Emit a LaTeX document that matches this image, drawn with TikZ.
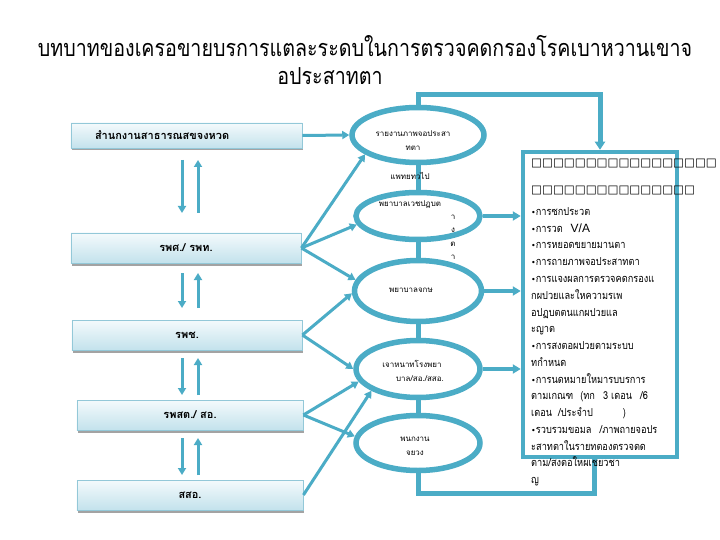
\documentclass[tikz,border=0pt]{standalone}
\usepackage{fontspec}
\newfontfamily\thai[Script=Thai]{Loma}
\newfontfamily\thaic[Script=Thai,FakeStretch=0.84]{Loma}
\newfontfamily\djv{DejaVu Sans}
\newfontfamily\lsans{Liberation Sans}
\usetikzlibrary{arrows.meta,shapes.geometric,shadows}
\definecolor{tealc}{HTML}{4BACC6}
\definecolor{boxline}{HTML}{93C8D8}
\definecolor{boxtop}{HTML}{F4FAFC}
\definecolor{boxbot}{HTML}{C3E2EC}
\newcommand{\bul}{{\djv\fontsize{8}{10}\selectfont •}}
\tikzset{
  lbox/.style={draw=boxline, line width=0.8bp, top color=boxtop, bottom color=boxbot,
    minimum height=30bp, inner sep=0pt, font=\thai\bfseries\fontsize{11}{13}\selectfont,
    drop shadow={shadow xshift=1bp, shadow yshift=-2.5bp, fill=black!45, opacity=0.8}},
  ell/.style={ellipse, draw=tealc, line width=5.5bp, fill=white, inner sep=0pt},
  link/.style={draw=tealc, line width=5bp},
  arr/.style={draw=tealc, line width=3bp, -{Triangle[length=7bp,width=8bp]}},
  rarr/.style={draw=tealc, line width=3.5bp, -{Triangle[length=8bp,width=9bp]}},
  small/.style={font=\thai\fontsize{8}{14}\selectfont, inner sep=0pt, align=center},
  rtext/.style={font=\thaic\fontsize{11}{12}\selectfont, inner sep=0pt, anchor=base west},
  hdr/.style={font=\djv\bfseries\fontsize{11.6}{14}\selectfont, inner sep=0pt, anchor=west},
  ttl/.style={font=\thaic\fontsize{23.5}{25}\selectfont, inner sep=0pt},
}
\begin{document}
\begin{tikzpicture}[x=1bp,y=-1bp]
\useasboundingbox (0,0) rectangle (720,540);
\fill[white] (0,0) rectangle (720,540);

% title
\node[ttl] (t1) at (365,46) {บทบาทของเครอขายบรการแตละระดบในการตรวจคดกรองโรคเบาหวานเขาจ};
\node[ttl] (t2) at (330,76) {อประสาทตา};

% left boxes
\node[lbox, minimum width=231bp, minimum height=25bp, text width=183bp, align=left] (b1) at (186.5,135.5) {สำนกงานสาธารณสขจงหวด};
\node[lbox, minimum width=230bp] (b2) at (186,248) {รพศ./ รพท.};
\node[lbox, minimum width=230bp] (b3) at (187,335) {รพช.};
\node[lbox, minimum width=226bp] (b4) at (190,415) {รพสต./ สอ.};
\node[lbox, minimum width=226bp] (b5) at (190,495) {สสอ.};

% right box
\node[draw=tealc, line width=4.5bp, minimum width=154bp, minimum height=305bp, inner sep=0pt] (rb) at (600,304.5) {};

% connectors around
\draw[link, -{Triangle[length=8bp,width=10bp]}] (418,105) -- (418,95) -| (rb.north);
\draw[link] (418,473) -- (418,493) -| (594,457);

% ellipses
\node[ell, minimum width=132bp, minimum height=55bp] (e1) at (418,135) {};
\node[ell, minimum width=124bp, minimum height=47bp] (e2) at (418,216) {};
\node[ell, minimum width=127bp, minimum height=61bp] (e3) at (418,291) {};
\node[ell, minimum width=124bp, minimum height=57bp] (e4) at (418,369) {};
\node[ell, minimum width=124bp, minimum height=55bp] (e5) at (418,443) {};

\draw[link] (e1.south) -- (e2.north);
\draw[link] (e2.south) -- (e3.north);
\draw[link] (e3.south) -- (e4.north);
\draw[link] (e4.south) -- (e5.north);

\node[small] (e1t) at (413,141) {รายงานภาพจอประสา\\ทตา};
\node[small] (l1) at (410,176) {แพทยทวไป};
\node[small] (e2t) at (410,204) {พยาบาลเวชปฏบต};
\node[small] (v1) at (453,217) {า};
\node[small] (v2) at (453,230) {ง};
\node[small] (v3) at (453,244) {ต};
\node[small] (v4) at (453,257) {า};
\node[small] (e3t) at (411,290) {พยาบาลจกษ};
\node[small] (e4t) at (412,371) {เจาหนาทโรงพยา\\\hspace*{16bp}บาล/สอ./สสอ.};
\node[small] (e5t) at (415,446) {พนกงาน\\จยวง};

% arrows from boxes to ellipses
\draw[arr] (b1.east) -- (e1.west);
\draw[arr] (b2.east) -- (e1.200);
\draw[arr] (b2.east) -- (e2.188);
\draw[arr] (b2.east) -- (e3.170);
\draw[arr] (b3.east) -- (e3.182);
\draw[arr] (b3.east) -- (e4.180);
\draw[arr] (b4.east) -- (e4.192);
\draw[arr] (b4.east) -- (e5.174);
\draw[arr] (b5.east) -- (e4.205);

% arrows between boxes
\coordinate (d1a) at (182,160); \coordinate (d1b) at (182,213);
\coordinate (u1a) at (198,213); \coordinate (u1b) at (198,160);
\draw[arr] (d1a) -- (d1b); \draw[arr] (u1a) -- (u1b);
\coordinate (d2a) at (182,273); \coordinate (d2b) at (182,308);
\coordinate (u2a) at (198,308); \coordinate (u2b) at (198,273);
\draw[arr] (d2a) -- (d2b); \draw[arr] (u2a) -- (u2b);
\coordinate (d3a) at (182,358); \coordinate (d3b) at (182,395);
\coordinate (u3a) at (198,395); \coordinate (u3b) at (198,358);
\draw[arr] (d3a) -- (d3b); \draw[arr] (u3a) -- (u3b);
\coordinate (d4a) at (182,438); \coordinate (d4b) at (182,475);
\coordinate (u4a) at (198,475); \coordinate (u4b) at (198,438);
\draw[arr] (d4a) -- (d4b); \draw[arr] (u4a) -- (u4b);

% arrows to right box
\draw[rarr] (e2.east) -- (e2.east -| rb.west);
\draw[rarr] (e3.east) -- (e3.east -| rb.west);
\draw[rarr] (e4.east) -- (e4.east -| rb.west);

% right box text
\node[hdr] (h1) at (531,163) {□□□□□□□□□□□□□□□□□};
\node[hdr] (h2) at (531,190) {□□□□□□□□□□□□□□□};
\foreach \t [count=\i] in {
  {\bul การซกประวต},
  {\bul การวด\hspace{8bp}{\lsans\fontsize{12}{14}\selectfont V/A}},
  {\bul การหยอดขยายมานตา},
  {\bul การถายภาพจอประสาทตา},
  {\bul การแจงผลการตรวจคดกรองแ},
  {กผปวยและใหความรเพ},
  {อปฏบตตนแกผปวยแล},
  {ะญาต},
  {\bul การสงตอผปวยตามระบบ},
  {ทกำหนด},
  {\bul การนดหมายใหมารบบรการ},
  {ตามเกณฑ\hspace{7bp}(ทก\hspace{8bp}3 เดอน\hspace{8bp}/6},
  {เดอน\hspace{6bp}/ประจำป\hspace{30bp})},
  {\bul รวบรวมขอมล\hspace{8bp}/ภาพถายจอปร},
  {ะสาทตาในรายทตองตรวจตด},
  {ตาม/สงตอใหผเชยวชา},
  {ญ}}
  \node[rtext] (r\i) at (531,215.5+16.75*\i-16.75) {\t};
\end{tikzpicture}
\end{document}
